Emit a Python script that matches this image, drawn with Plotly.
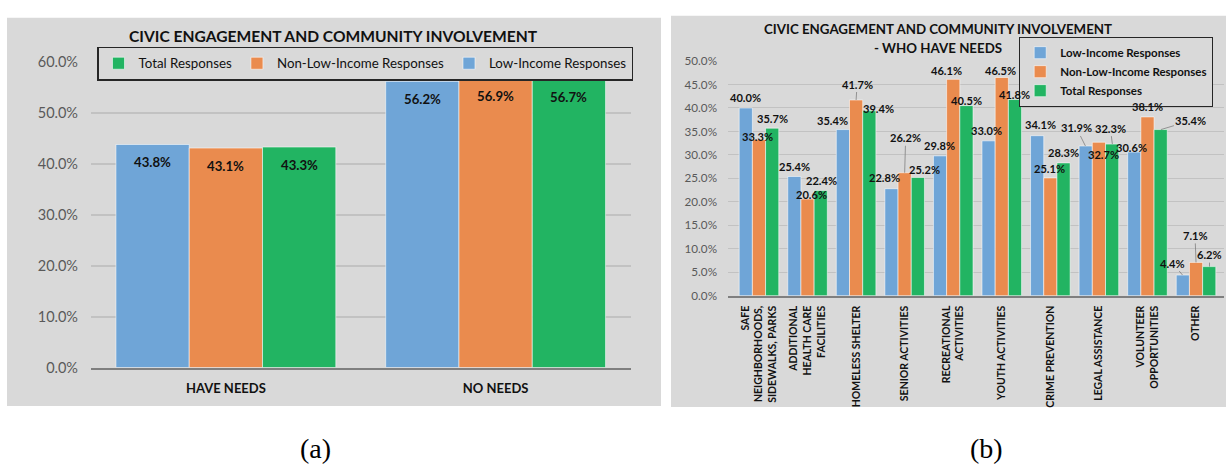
import plotly.graph_objects as go

W, H = 1226, 469
FONT = "Lato, Liberation Sans, sans-serif"
SERIF = "Liberation Serif, Times New Roman, serif"

BLUE = "#6fa5d7"
ORANGE = "#ea8b4e"
GREEN = "#22b462"
BG = "#d9d9d9"
GRID = "#c2c2c2"

# --- dati pannello (a)
CAT_A = ["HAVE NEEDS", "NO NEEDS"]
LOW_A = [43.8, 56.2]
NON_A = [43.1, 56.9]
TOT_A = [43.3, 56.7]

# --- dati pannello (b)
CAT_B = [
    "SAFE<br>NEIGHBORHOODS,<br>SIDEWALKS, PARKS",
    "ADDITIONAL<br>HEALTH CARE<br>FACILITIES",
    "HOMELESS SHELTER",
    "SENIOR ACTIVITIES",
    "RECREATIONAL<br>ACTIVITIES",
    "YOUTH ACTIVITIES",
    "CRIME PREVENTION",
    "LEGAL ASSISTANCE",
    "VOLUNTEER<br>OPPORTUNITIES",
    "OTHER",
]
LOW_B = [40.0, 25.4, 35.4, 22.8, 29.8, 33.0, 34.1, 31.9, 30.6, 4.4]
NON_B = [33.3, 20.6, 41.7, 26.2, 46.1, 46.5, 25.1, 32.7, 38.1, 7.1]
TOT_B = [35.7, 22.4, 39.4, 25.2, 40.5, 41.8, 28.3, 32.3, 35.4, 6.2]

# spostamenti delle etichette (px) e linee guida, come in Excel
OFF_LOW_B = [(0, -10), (0, -10), (-10, -9), (-7, -11), (0, -10), (-2, -10), (4, -11), (-9, -18), (-2, -5), (-10, -12)]
OFF_NON_B = [(-1, -3), (4, -5), (1, -16), (1, -35), (-7, -9), (-1, -7), (-1, -9), (5, 12), (0, -10), (-1, -27)]
OFF_TOT_B = [(0, -10), (0, -10), (9, -2), (6, -8), (0, -5), (-1, -5), (0, -10), (-2, -16), (30, -9), (0, -12)]
LEAD_LOW_B = [0, 0, 0, 0, 0, 0, 0, 1, 0, 1]
LEAD_NON_B = [0, 0, 1, 1, 0, 0, 0, 0, 0, 1]
LEAD_TOT_B = [0, 0, 0, 0, 0, 0, 0, 1, 1, 1]


def px(x):
    return x / W


def py(y):
    return 1 - y / H


def label(x, y, text, size, family=FONT, bold=True, color="#111111"):
    # testo libero in coordinate pixel della pagina
    return dict(x=px(x), y=py(y), xref="paper", yref="paper", showarrow=False,
                xanchor="center", yanchor="middle", text=text,
                font=dict(family=family, size=size, color=color,
                          weight="bold" if bold else "normal"))


fig = go.Figure()
bar_line = dict(color="rgba(255,255,255,0.55)", width=1)

for name, vals, col in [("Low-Income Responses", LOW_A, BLUE),
                        ("Non-Low-Income Responses", NON_A, ORANGE),
                        ("Total Responses", TOT_A, GREEN)]:
    fig.add_trace(go.Bar(x=CAT_A, y=vals, name=name, marker=dict(color=col, line=bar_line),
                         xaxis="x", yaxis="y", legend="legend", hoverinfo="skip"))

for name, vals, col in [("Low-Income Responses", LOW_B, BLUE),
                        ("Non-Low-Income Responses", NON_B, ORANGE),
                        ("Total Responses", TOT_B, GREEN)]:
    fig.add_trace(go.Bar(x=CAT_B, y=vals, name=name, marker=dict(color=col, line=bar_line),
                         xaxis="x2", yaxis="y2", legend="legend2", hoverinfo="skip"))

annotations = []

# etichette pannello (a), dentro le barre
bw_a = (630.5 - 91) / 2 * 0.815 / 3
for k, vals in enumerate([LOW_A, NON_A, TOT_A]):
    for cat, v in zip(CAT_A, vals):
        annotations.append(dict(
            x=cat, y=v, xref="x", yref="y", text=f"{v:.1f}%", showarrow=False,
            xshift=(k - 1) * bw_a, yshift=-18, xanchor="center", yanchor="middle",
            font=dict(family=FONT, size=13.2, color="#111111", weight="bold")))

# etichette pannello (b)
bw_b = (1224 - 728) / 10 * 0.815 / 3
for k, (vals, offs, leads) in enumerate([(LOW_B, OFF_LOW_B, LEAD_LOW_B),
                                          (NON_B, OFF_NON_B, LEAD_NON_B),
                                          (TOT_B, OFF_TOT_B, LEAD_TOT_B)]):
    for cat, v, (dx, dy), lead in zip(CAT_B, vals, offs, leads):
        annotations.append(dict(
            x=cat, y=v, xref="x2", yref="y2", text=f"{v:.1f}%",
            showarrow=True, ax=dx, ay=dy, arrowhead=0, standoff=0,
            arrowwidth=0.8 if lead else 0.1,
            arrowcolor="#7f7f7f" if lead else "rgba(0,0,0,0)",
            xshift=(k - 1) * bw_b,
            font=dict(family=FONT, size=11.1, color="#111111", weight="bold")))

# titoli
annotations.append(label(333, 28, "CIVIC ENGAGEMENT AND COMMUNITY INVOLVEMENT", 15.6))
annotations.append(label(938, 21, "CIVIC ENGAGEMENT AND COMMUNITY INVOLVEMENT", 13.3))
annotations.append(label(938, 40, "- WHO HAVE NEEDS", 13.3))

# didascalie
annotations.append(label(315, 456, "(a)", 28, family=SERIF, bold=False, color="#000000"))
annotations.append(label(986, 456, "(b)", 28, family=SERIF, bold=False, color="#000000"))

shapes = [
    dict(type="rect", xref="paper", yref="paper", x0=px(7), x1=px(661), y0=py(412), y1=py(9),
         fillcolor=BG, line=dict(width=0), layer="below"),
    dict(type="rect", xref="paper", yref="paper", x0=px(671), x1=px(1226), y0=py(413), y1=py(7),
         fillcolor=BG, line=dict(width=0), layer="below"),
]

fig.update_layout(
    width=W, height=H,
    margin=dict(l=0, r=0, t=0, b=0),
    paper_bgcolor="white", plot_bgcolor=BG,
    barmode="group", bargap=0.185, bargroupgap=0,
    annotations=annotations, shapes=shapes,
    xaxis=dict(domain=[px(91), px(630.5)], anchor="y", showgrid=False,
               showline=True, linecolor="#7f7f7f", linewidth=1.5,
               tickfont=dict(family=FONT, size=13, color="#111111", weight="bold"),
               ticklabelstandoff=8),
    yaxis=dict(domain=[py(372), py(55)], anchor="x", range=[0, 60], dtick=10,
               ticksuffix="%", tickformat=".1f", gridcolor=GRID, gridwidth=1.5,
               zeroline=False, showline=False,
               tickfont=dict(family=FONT, size=14.5, color="#595959"),
               ticklabelstandoff=12),
    xaxis2=dict(domain=[px(728), px(1224)], anchor="y2", showgrid=False,
                showline=True, linecolor="#7f7f7f", linewidth=1.5, tickangle=-90,
                tickfont=dict(family=FONT, size=10.5, color="#111111", weight="bold"),
                ticklabelstandoff=4),
    yaxis2=dict(domain=[py(297.5), py(54)], anchor="x2", range=[0, 50], dtick=5,
                ticksuffix="%", tickformat=".1f", gridcolor=GRID, gridwidth=1.2,
                zeroline=False, showline=False,
                tickfont=dict(family=FONT, size=11.7, color="#595959"),
                ticklabelstandoff=10),
    legend=dict(orientation="h", x=px(365), xanchor="center", y=py(39), yanchor="top",
                bgcolor=BG, bordercolor="#262626", borderwidth=1.5, traceorder="reversed",
                itemwidth=30, font=dict(family=FONT, size=13.3, color="#111111")),
    legend2=dict(orientation="v", x=px(1019), xanchor="left", y=py(29), yanchor="top",
                 bgcolor=BG, bordercolor="#262626", borderwidth=1.2, traceorder="normal",
                 itemwidth=30, tracegroupgap=0,
                 font=dict(family=FONT, size=11.5, color="#111111", weight="bold")),
)

# la pagina deve coincidere con la finestra (niente margine del body)
fig.write_html("out.html", config={"displayModeBar": False},
               post_script="document.body.style.margin='0';document.body.style.overflow='hidden';")
